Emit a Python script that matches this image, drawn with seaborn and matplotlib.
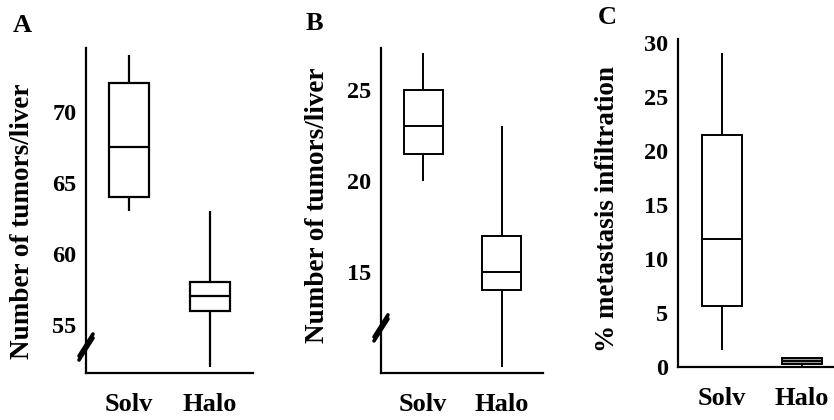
import numpy as np
import pandas as pd
import matplotlib
matplotlib.use("Agg")
import matplotlib.pyplot as plt
import seaborn as sns

sns.set_style("white")
plt.rcParams['font.family'] = ['Liberation Serif', 'DejaVu Serif']
plt.rcParams['font.weight'] = 'bold'
for key in ['text.color', 'axes.labelcolor', 'xtick.color', 'ytick.color', 'axes.edgecolor']:
    plt.rcParams[key] = 'black'

groups = ["Solv", "Halo"]
# five-number summaries (min, Q1, median, Q3, max)
a_solv = [63, 64, 67.5, 72, 74]
a_halo = [52, 56, 57, 58, 63]
b_solv = [20, 21.5, 23, 25, 27]
b_halo = [9.8, 14, 15, 17, 23]
c_solv = [1.5, 5.6, 11.8, 21.4, 29]
c_halo = [0.1, 0.28, 0.5, 0.8, 0.85]

panel_letters = ["A", "B", "C"]
ylabels = ["Number of tumors/liver", "Number of tumors/liver", "% metastasis infiltration"]
yticks_a = [55, 60, 65, 70]
yticks_b = [10, 15, 20, 25]
ytick_labels_b = ["", "15", "20", "25"]
yticks_c = [0, 5, 10, 15, 20, 25, 30]


def frame(solv, halo):
    return pd.DataFrame({"group": ["Solv"] * len(solv) + ["Halo"] * len(halo),
                         "value": list(solv) + list(halo)})


W, H = 834, 420
fig = plt.figure(figsize=(W / 100, H / 100), dpi=100)

# axes boxes in pixels: left, right, top, bottom
boxes = [(86, 253, 48, 373), (381, 543, 48, 372.7), (678.3, 834, 39.3, 366.7)]
axes = []
for (l, r, t, b) in boxes:
    ax = fig.add_axes([l / W, (H - b) / H, (r - l) / W, (b - t) / H])
    axes.append(ax)

datas = [frame(a_solv, a_halo), frame(b_solv, b_halo), frame(c_solv, c_halo)]
palettes = [{"Solv": "white", "Halo": "white"},
            {"Solv": "white", "Halo": "white"},
            {"Solv": "white", "Halo": "#9a9a9a"}]
lws = [1.6, 1.4, 1.4]

for ax, df, pal, lw in zip(axes, datas, palettes, lws):
    sns.boxplot(data=df, x="group", y="value", hue="group", order=groups,
                palette=pal, legend=False, whis=(0, 100), width=0.5,
                linecolor="black", linewidth=lw, showcaps=False, ax=ax,
                medianprops=dict(color="black", linewidth=lw),
                whiskerprops=dict(color="black", linewidth=lw))

xlims = [(-0.53, 1.53), (-0.54, 1.53), (-0.54, 1.40)]
ylims = [(51.6, 74.5), (9.49, 27.3), (0, 30.3)]
for ax, xl, yl in zip(axes, xlims, ylims):
    ax.set_xlim(*xl)
    ax.set_ylim(*yl)
    for s in ["top", "right"]:
        ax.spines[s].set_visible(False)
    for s in ["left", "bottom"]:
        ax.spines[s].set_linewidth(1.6)
        ax.spines[s].set_color("black")
    ax.set_xlabel("")
    ax.tick_params(axis="y", direction="inout", length=4, width=1.2,
                   labelsize=17.5, pad=5, colors="black")
    ax.tick_params(axis="x", direction="inout", length=4, width=1.2,
                   labelsize=19, pad=12.5, colors="black")
    ax.set_xticks(range(len(groups)))
    ax.set_xticklabels(groups, fontweight="bold")
    ax.set_facecolor("white")

axes[0].set_yticks(yticks_a)
axes[0].set_yticklabels([str(v) for v in yticks_a], fontweight="bold")
axes[1].set_yticks(yticks_b)
axes[1].set_yticklabels(ytick_labels_b, fontweight="bold")
axes[2].set_yticks(yticks_c)
axes[2].set_yticklabels([str(v) for v in yticks_c], fontweight="bold")

label_coords = [(-0.383, 0.466), (-0.395, 0.516), (-0.452, 0.482)]
for ax, lab, (lx, ly) in zip(axes, ylabels, label_coords):
    ax.set_ylabel(lab, fontsize=19.5, fontweight="bold", va="center", ha="center",
                  color="black")
    ax.yaxis.set_label_coords(lx, ly)

# panel letters
letter_pos = [(13, 32), (306, 30), (598, 24)]
for letter, (px, py) in zip(panel_letters, letter_pos):
    fig.text(px / W, (H - py) / H, letter, fontsize=19, fontweight="bold",
             ha="left", va="baseline", color="black")

# axis break marks on the y axis of panels A and B
breaks = [(0, 0.08), (1, 0.138)]
for idx, yc in breaks:
    ax = axes[idx]
    l, r, t, b = boxes[idx]
    pw, ph = r - l, b - t
    for off in (-2.0, 2.0):
        x0, y0 = -7 / pw, yc + (-11 + off) / ph
        x1, y1 = 7 / pw, yc + (11 + off) / ph
        ax.plot([x0, x1], [y0, y1], transform=ax.transAxes, color="black",
                lw=2.6, clip_on=False, solid_capstyle="round")

fig.savefig("out.png", dpi=100, facecolor="white")
